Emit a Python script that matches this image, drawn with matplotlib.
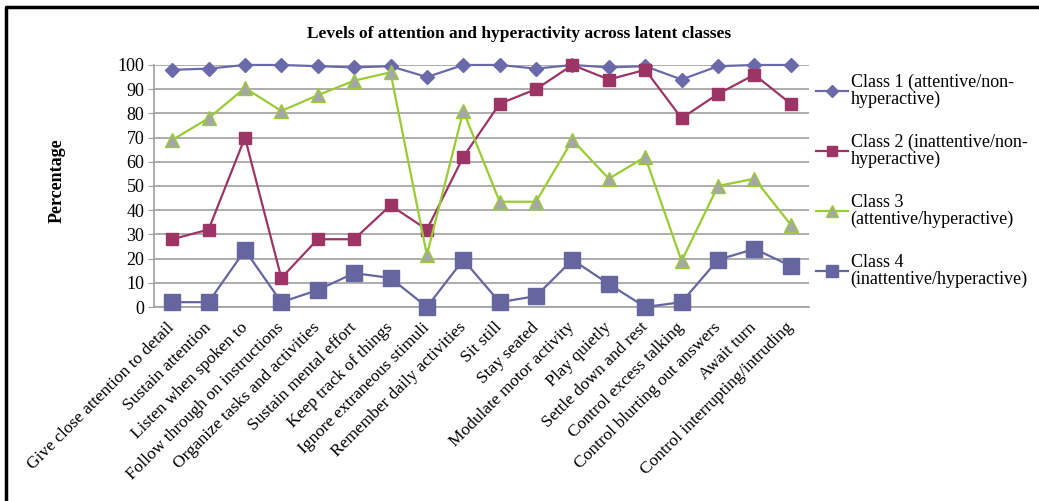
import matplotlib.pyplot as plt
from matplotlib.lines import Line2D

plt.rcParams["font.family"] = ["Liberation Serif", "DejaVu Serif"]

categories = [
    "Give close attention to detail", "Sustain attention", "Listen when spoken to",
    "Follow through on instructions", "Organize tasks and activities",
    "Sustain mental effort", "Keep track of things", "Ignore extraneous stimuli",
    "Remember daily activities", "Sit still", "Stay seated",
    "Modulate motor activity", "Play quietly", "Settle down and rest",
    "Control excess talking", "Control blurting out answers", "Await turn",
    "Control interrupting/intruding",
]

class1 = [98, 98.5, 100, 100, 99.5, 99, 99.5, 95, 100, 100, 98.5, 100, 99, 99.5, 94, 99.5, 100, 100]
class2 = [28, 32, 70, 12, 28, 28, 42, 32, 62, 84, 90, 100, 94, 98, 78, 88, 96, 84]
class3 = [69, 78, 90.5, 81, 87.5, 93.5, 97, 21.5, 81, 43.5, 43.5, 69, 53, 62, 19, 50, 53, 34]
class4 = [2, 2, 23.5, 2, 7, 14, 12, 0, 19.5, 2, 4.5, 19.5, 9.5, 0, 2, 19.5, 24, 17]

labels = [
    "Class 1 (attentive/non-\nhyperactive)",
    "Class 2 (inattentive/non-\nhyperactive)",
    "Class 3\n(attentive/hyperactive)",
    "Class 4\n(inattentive/hyperactive)",
]

fig = plt.figure(figsize=(10.39, 5.01), dpi=100)
ax = fig.add_axes([0.1482, 0.3872, 0.6304, 0.4831])

x = range(len(categories))
ax.plot(x, class1, color="#6A6AAA", lw=1.6, marker="D", ms=7, clip_on=False, zorder=3, label=labels[0])
ax.plot(x, class2, color="#9C3465", lw=1.6, marker="s", ms=8, clip_on=False, zorder=3, label=labels[1])
ax.plot(x, class3, color="#99CC33", lw=1.6, marker="^", ms=10, mfc="#A6A6A6", mec="#99CC33",
        clip_on=False, zorder=3, label=labels[2])
ax.plot(x, class4, color="#6565A0", lw=1.6, marker="s", ms=11, clip_on=False, zorder=3, label=labels[3])

ax.set_xlim(-0.5, len(categories) - 0.5)
ax.set_ylim(0, 100)
ax.set_yticks(range(0, 101, 10))
ax.yaxis.grid(True, color="#A0A0A0", lw=1.2)
ax.set_axisbelow(True)
for s in ["top", "right"]:
    ax.spines[s].set_visible(False)
for s in ["left", "bottom"]:
    ax.spines[s].set_color("#A0A0A0")
    ax.spines[s].set_linewidth(1.2)
ax.tick_params(axis="y", length=4, color="#A0A0A0", labelsize=13, pad=3)
ax.tick_params(axis="x", length=0, pad=13)
ax.set_xticks(list(x))
ax.set_xticklabels(categories, rotation=45, ha="right", va="center",
                   rotation_mode="anchor", fontsize=12.5)

ax.set_ylabel("Percentage", fontsize=13, fontweight="bold")
ax.yaxis.set_label_coords(-0.135, 0.52)
fig.text(0.5, 0.932, "Levels of attention and hyperactivity across latent classes",
         ha="center", va="center", fontsize=12.5, fontweight="bold")

leg = fig.legend(loc="upper left", bbox_to_anchor=(0.770, 0.885), frameon=False,
                 fontsize=13, handlelength=1.75, handletextpad=0.15, labelspacing=1.45,
                 markerscale=0.85)
for t in leg.get_texts():
    t.set_linespacing(0.95)

# outer frame (left and top edges visible)
fig.add_artist(Line2D([0.006, 0.006, 1.0], [0.0, 0.986, 0.986], color="black", lw=2.5,
                      transform=fig.transFigure))

fig.savefig("out.png", dpi=100)
